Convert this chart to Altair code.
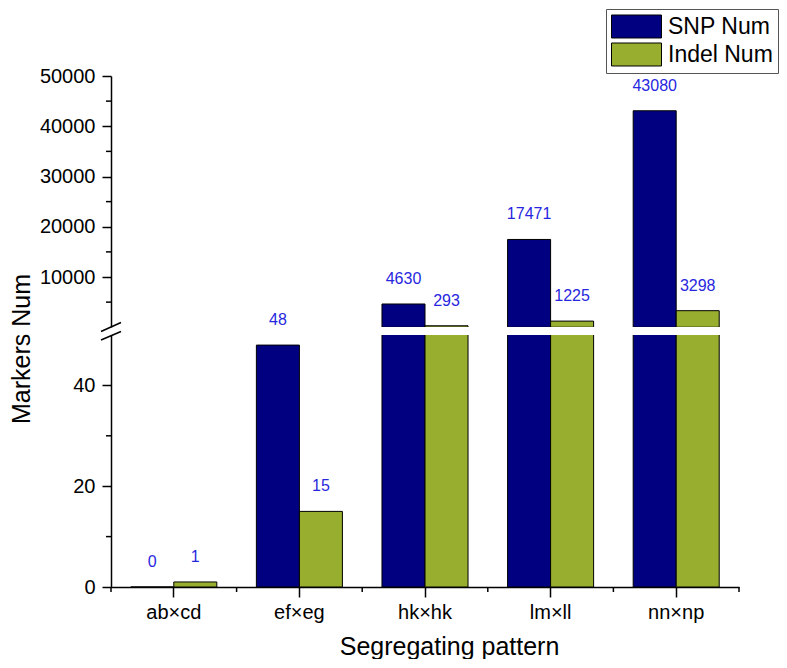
import altair as alt
import pandas as pd

categories = ["ab×cd", "ef×eg", "hk×hk", "lm×ll", "nn×np"]
snp_num = [0, 48, 4630, 17471, 43080]
indel_num = [1, 15, 293, 1225, 3298]
series = ["SNP Num", "Indel Num"]
colors = ["#000080", "#97AE2F"]
upper_major = [10000, 20000, 30000, 40000, 50000]
upper_minor = [5000, 15000, 25000, 35000, 45000]
lower_major = [0, 20, 40]
lower_minor = [10, 30]
break_value = 50

rows = []
for c, s, i in zip(categories, snp_num, indel_num):
    rows.append({"pattern": c, "series": "SNP Num", "value": s})
    rows.append({"pattern": c, "series": "Indel Num", "value": i})
df = pd.DataFrame(rows)

W = 628
H_UP = 251
H_LO = 252
STEP = W / 5.0
FONT = "Liberation Sans"
LABEL_BLUE = "#2727DE"

xscale = alt.Scale(domain=categories, paddingInner=0.315, paddingOuter=0.1575)
xoff = alt.XOffset("series:N", sort=series,
                   scale=alt.Scale(domain=series, paddingInner=0, paddingOuter=0))
color = alt.Color(
    "series:N", sort=series,
    scale=alt.Scale(domain=series, range=colors),
    legend=alt.Legend(
        title=None, orient="none", legendX=495, legendY=-67,
        symbolType="M-2.083,-0.958H2.083V0.958H-2.083Z", symbolSize=576,
        symbolOffset=13,
        symbolStrokeColor="black", symbolStrokeWidth=1, symbolOpacity=1,
        labelFontSize=23, labelFont=FONT, labelColor="black", labelOffset=19,
        rowPadding=1, padding=5, strokeColor="#555555", fillColor="white",
    ),
)

# ---------- upper panel ----------
y_up = alt.Y(
    "value:Q",
    scale=alt.Scale(domain=[break_value, 50000], nice=False, zero=False),
    axis=alt.Axis(values=upper_major, tickSize=9, labelFontSize=20, labelPadding=7,
                  grid=False, title=None, format="d"),
)
x_up = alt.X("pattern:N", sort=categories, scale=xscale, axis=None)

up_df = alt.Chart(df).transform_filter(f"datum.value >= {break_value}")
bars_up = up_df.mark_bar(clip=True, stroke="black", strokeWidth=1).encode(
    x=x_up, xOffset=xoff, y=y_up, color=color
)
labels_up = up_df.mark_text(
    dy=-25, baseline="middle", fontSize=16, color=LABEL_BLUE, font=FONT
).encode(x=x_up, xOffset=xoff, y=y_up, text=alt.Text("value:Q", format="d"))
minor_up = alt.Chart(pd.DataFrame({"value": upper_minor})).mark_rule(
    color="black", strokeWidth=1.5
).encode(y=y_up, x=alt.value(-5), x2=alt.value(0))
slash_up = alt.Chart(pd.DataFrame({"a": [0]})).mark_rule(color="black", strokeWidth=1.5).encode(
    x=alt.value(-10), x2=alt.value(10), y=alt.value(H_UP + 4.5), y2=alt.value(H_UP - 4.5)
)
upper = alt.layer(bars_up, labels_up, minor_up, slash_up).properties(width=W, height=H_UP)

# ---------- lower panel ----------
y_lo = alt.Y(
    "value:Q",
    scale=alt.Scale(domain=[0, break_value], nice=False),
    axis=alt.Axis(values=lower_major, tickSize=9, labelFontSize=20, labelPadding=7,
                  grid=False, title="Markers Num", titleFontSize=25, titleFontWeight="normal",
                  titleX=-82, titleY=13.5, titleAngle=270, titleAlign="center",
                  titleBaseline="alphabetic", format="d"),
)
x_lo = alt.X(
    "pattern:N", sort=categories, scale=xscale,
    axis=alt.Axis(tickSize=10, labelFontSize=20, labelPadding=5, labelAngle=0,
                  title="Segregating pattern", titleFontSize=25, titleFontWeight="normal",
                  titleX=338, titleY=67, titleBaseline="alphabetic", titleAlign="center"),
)
bars_lo = alt.Chart(df).mark_bar(clip=True, stroke="black", strokeWidth=1).encode(
    x=x_lo, xOffset=xoff, y=y_lo, color=color
)
labels_lo = alt.Chart(df).transform_filter(f"datum.value < {break_value}").mark_text(
    dy=-25, baseline="middle", fontSize=16, color=LABEL_BLUE, font=FONT
).encode(x=x_lo, xOffset=xoff, y=y_lo, text=alt.Text("value:Q", format="d"))
minor_lo = alt.Chart(pd.DataFrame({"value": lower_minor})).mark_rule(
    color="black", strokeWidth=1.5
).encode(y=y_lo, x=alt.value(-5), x2=alt.value(0))
cat_df = pd.DataFrame({"pattern": categories})
minor_x_left = alt.Chart(cat_df).mark_rule(color="black", strokeWidth=1.5, xOffset=-STEP / 2).encode(
    x=x_lo, y=alt.value(H_LO), y2=alt.value(H_LO + 5)
)
minor_x_right = alt.Chart(cat_df).transform_filter(f"datum.pattern == '{categories[-1]}'").mark_rule(
    color="black", strokeWidth=1.5, xOffset=STEP / 2
).encode(x=x_lo, y=alt.value(H_LO), y2=alt.value(H_LO + 5))
slash_lo = alt.Chart(pd.DataFrame({"a": [0]})).mark_rule(color="black", strokeWidth=1.5).encode(
    x=alt.value(-10), x2=alt.value(10), y=alt.value(5), y2=alt.value(-3.5)
)
lower = alt.layer(bars_lo, labels_lo, minor_lo, minor_x_left, minor_x_right, slash_lo).properties(
    width=W, height=H_LO
)

chart = (
    alt.vconcat(upper, lower, spacing=8, bounds="flush")
    .properties(padding={"left": 0, "top": 0, "right": 0, "bottom": 0})
    .configure(font=FONT)
    .configure_view(strokeWidth=0, stroke="transparent")
    .configure_axis(
        labelColor="black", tickColor="black", domainColor="black",
        domainWidth=1.5, tickWidth=1.5, labelFont=FONT, titleFont=FONT, titleColor="black",
    )
)

chart.save("out.html", embed_options={"renderer": "svg", "actions": False})
